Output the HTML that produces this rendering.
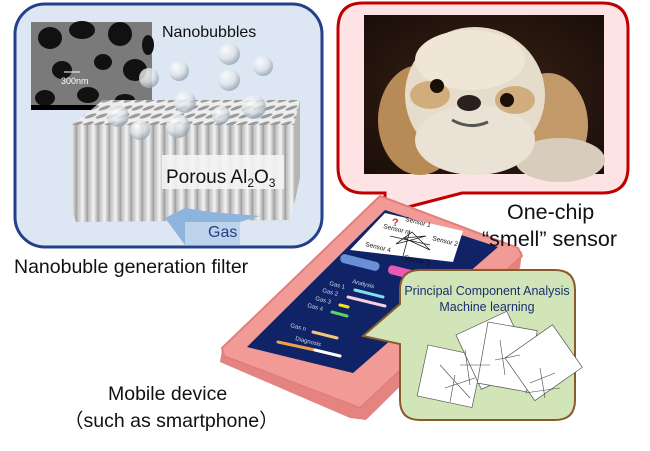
<!DOCTYPE html>
<html><head><meta charset="utf-8"><style>
html,body{margin:0;padding:0;background:#fff;width:650px;height:451px;overflow:hidden}
svg{display:block}
text{font-family:"Liberation Sans",sans-serif}
</style></head><body>
<svg width="650" height="451" viewBox="0 0 650 451" xmlns="http://www.w3.org/2000/svg">
<defs>
<radialGradient id="bub" cx="0.35" cy="0.3" r="0.7">
<stop offset="0" stop-color="#ffffff"/><stop offset="0.6" stop-color="#dde4ea"/><stop offset="1" stop-color="#9aa6b2"/>
</radialGradient>
<linearGradient id="stripe" x1="0" x2="1" y1="0" y2="0">
<stop offset="0" stop-color="#b8b8b8"/><stop offset="0.5" stop-color="#f4f4f4"/><stop offset="1" stop-color="#9a9a9a"/>
</linearGradient>
<pattern id="cols" width="11" height="20" patternUnits="userSpaceOnUse">
<rect width="11" height="20" fill="url(#stripe)"/>
</pattern>
<pattern id="holes" width="11" height="8" patternUnits="userSpaceOnUse" patternTransform="skewX(-60)">
<rect width="11" height="8" fill="#eeeeee"/><ellipse cx="5.5" cy="4" rx="4" ry="2.6" fill="#9b9b9b"/>
</pattern>
<radialGradient id="dogbg" cx="0.5" cy="0.5" r="0.7"><stop offset="0" stop-color="#3a2418"/><stop offset="1" stop-color="#1a0d08"/></radialGradient>
</defs>

<!-- Blue box -->
<rect x="15" y="4" width="307" height="243" rx="30" fill="#dde6f3" stroke="#23408a" stroke-width="3"/>
<!-- SEM -->
<rect x="31" y="22" width="121" height="88" fill="#7a7a7a"/>
<g fill="#111">
<ellipse cx="50" cy="38" rx="12" ry="11"/><ellipse cx="82" cy="30" rx="13" ry="9"/><ellipse cx="120" cy="34" rx="12" ry="12"/>
<ellipse cx="62" cy="70" rx="10" ry="9"/><ellipse cx="103" cy="62" rx="9" ry="8"/><ellipse cx="135" cy="70" rx="12" ry="11"/>
<ellipse cx="45" cy="98" rx="10" ry="8"/><ellipse cx="88" cy="95" rx="11" ry="8"/><ellipse cx="125" cy="100" rx="10" ry="6"/>
<ellipse cx="148" cy="45" rx="6" ry="10"/>
</g>
<rect x="31" y="105" width="121" height="5" fill="#000"/>
<line x1="64" y1="72" x2="80" y2="72" stroke="#fff" stroke-width="1"/>
<text x="61" y="84" font-size="9" fill="#fff">300nm</text>
<text x="162" y="37" font-size="16" fill="#111">Nanobubbles</text>
<!-- block -->
<polygon points="72,125 103,100 300,100 294,125" fill="url(#holes)"/>
<polygon points="72,125 294,125 294,200 290,220 76,222 72,210" fill="url(#cols)"/>
<polygon points="294,125 300,100 300,178 294,205" fill="#b5b5b5"/>
<rect x="162" y="155" width="122" height="34" fill="#f4f4f4" opacity="0.9"/>
<text x="166" y="183" font-size="19" fill="#111">Porous Al<tspan font-size="12" dy="4">2</tspan><tspan dy="-4">O</tspan><tspan font-size="12" dy="4">3</tspan></text>
<!-- gas arrow -->
<polygon points="165,218 185,208 210,212 260,216 240,222 205,222 205,245 185,245" fill="#8db4dc"/>
<polygon points="185,222 240,222 240,245 185,245" fill="#bcd3ea"/>
<text x="208" y="237" font-size="16" fill="#23408a">Gas</text>
<!-- bubbles -->
<g fill="url(#bub)" opacity="0.8">
<circle cx="229" cy="54" r="11"/><circle cx="179" cy="71" r="10"/><circle cx="263" cy="66" r="10"/>
<circle cx="149" cy="78" r="10"/><circle cx="229" cy="80" r="11"/><circle cx="185" cy="102" r="11"/>
<circle cx="254" cy="107" r="12"/><circle cx="118" cy="116" r="11"/><circle cx="140" cy="130" r="10"/>
<circle cx="178" cy="126" r="12"/><circle cx="221" cy="115" r="9"/>
</g>
<text x="14" y="273" font-size="19.5" fill="#111">Nanobuble generation filter</text>

<!-- Red bubble -->
<path d="M363,3 H602 Q628,3 628,29 V167 Q628,193 602,193 H462 L385,213 V193 H364 Q338,193 338,167 V29 Q338,3 363,3 Z" fill="#fde3e3" stroke="#c00000" stroke-width="3"/>
<rect x="364" y="15" width="240" height="159" fill="url(#dogbg)"/>
<g>
<ellipse cx="420" cy="120" rx="42" ry="55" fill="#b88a55"/>
<ellipse cx="548" cy="125" rx="40" ry="52" fill="#c29a6a"/>
<ellipse cx="560" cy="160" rx="45" ry="22" fill="#d8cdbd"/>
<ellipse cx="475" cy="95" rx="70" ry="68" fill="#e6dccb"/>
<ellipse cx="470" cy="60" rx="55" ry="30" fill="#efe6d6"/>
<ellipse cx="475" cy="140" rx="60" ry="35" fill="#e9e2d5"/>
<ellipse cx="430" cy="95" rx="20" ry="14" fill="#c8985c" opacity="0.7"/>
<ellipse cx="515" cy="100" rx="20" ry="14" fill="#c8985c" opacity="0.7"/>
<circle cx="437" cy="86" r="7" fill="#1a0e08"/><circle cx="507" cy="100" r="7" fill="#1a0e08"/>
<ellipse cx="469" cy="103" rx="12" ry="8" fill="#2a2020"/>
<path d="M452,120 Q470,130 488,122" stroke="#555" stroke-width="3" fill="none"/>
</g>

<!-- phone -->
<polygon points="384,198 522,252 520,268 366,420 350,418 220,362 222,350" fill="#e48380"/>
<polygon points="380,196 518,248 522,256 360,408 224,356 222,348" fill="#f29a96" stroke="#e07f7c" stroke-width="2" stroke-linejoin="round"/>
<polygon points="385,210 498,247 353,373 247,347" fill="#0f2366"/>
<polygon points="385,213 463,231 453,262 350,250" fill="#fff"/>
<text x="392" y="226" font-size="11" fill="#e22" font-weight="bold">?</text>
<g font-size="6.5" fill="#111">
<text x="405" y="221" transform="rotate(14 405 221)">Sensor 1</text>
<text x="383" y="228" transform="rotate(14 383 228)">Sensor n</text>
<text x="432" y="240" transform="rotate(14 432 240)">Sensor 2</text>
<text x="365" y="246" transform="rotate(14 365 246)">Sensor 4</text>
<text x="404" y="259" transform="rotate(14 404 259)">Sensor 3</text>
</g>
<path d="M396,244 L412,232 L430,250 L404,238 L426,236 Z M410,230 L402,260 M390,236 L430,245" stroke="#222" stroke-width="0.8" fill="none"/>
<rect x="340" y="258" width="40" height="9" rx="4" fill="#6b8fd6" transform="rotate(14 360 262)"/>
<rect x="388" y="268" width="30" height="9" rx="4" fill="#e85ab6" transform="rotate(14 403 272)"/>
<g font-size="6" fill="#cfd6ea">
<text x="352" y="283" transform="rotate(14 352 283)">Analysis</text>
<text x="329" y="285" transform="rotate(14 329 285)">Gas 1</text>
<text x="322" y="292" transform="rotate(14 322 292)">Gas 2</text>
<text x="315" y="300" transform="rotate(14 315 300)">Gas 3</text>
<text x="307" y="307" transform="rotate(14 307 307)">Gas 4</text>
<text x="290" y="327" transform="rotate(14 290 327)">Gas n</text>
<text x="295" y="340" transform="rotate(14 295 340)">Diagnosis</text>
</g>
<g stroke-width="3" stroke-linecap="round">
<line x1="355" y1="290" x2="383" y2="297" stroke="#7fe0f5"/>
<line x1="348" y1="297" x2="385" y2="306" stroke="#f6d0e2"/>
<line x1="340" y1="305" x2="348" y2="307" stroke="#f3e31c"/>
<line x1="332" y1="312" x2="347" y2="316" stroke="#59d65a"/>
<line x1="313" y1="332" x2="337" y2="338" stroke="#f4c47c"/>
<line x1="278" y1="342" x2="315" y2="350" stroke="#f0a04a"/>
<line x1="315" y1="350" x2="340" y2="356" stroke="#fff"/>
</g>

<text x="507" y="219" font-size="21.5" fill="#111">One-chip</text>
<text x="482" y="246" font-size="21.5" fill="#111">“smell” sensor</text>

<!-- Green bubble -->
<path d="M420,270 H555 Q575,270 575,290 V400 Q575,420 555,420 H420 Q400,420 400,400 V344 L363,336 L400,304 V290 Q400,270 420,270 Z" fill="#d2e5b8" stroke="#8b5a2b" stroke-width="2"/>
<text x="487" y="295" font-size="12.5" fill="#1a2f6e" text-anchor="middle" font-family="Liberation Serif,serif">Principal Component Analysis</text>
<text x="487" y="311" font-size="12.5" fill="#1a2f6e" text-anchor="middle" font-family="Liberation Serif,serif">Machine learning</text>
<g fill="#fff" stroke="#555" stroke-width="0.7">
<rect x="0" y="0" width="56" height="52" transform="translate(428,345) rotate(12)"/>
<rect x="0" y="0" width="56" height="60" transform="translate(456,335) rotate(-25)"/>
<rect x="0" y="0" width="50" height="62" transform="translate(488,322) rotate(10)"/>
<rect x="0" y="0" width="58" height="52" transform="translate(505,358) rotate(-35)"/>
</g>
<g stroke="#444" stroke-width="0.6" fill="none">
<path d="M440,365 L470,398 M455,375 L450,402 M445,388 L475,378 M465,350 L470,385 M460,365 L490,365 M500,340 L505,375 M495,360 L520,355 M530,383 L555,373 M540,368 L545,398 M525,393 L560,388"/>
</g>

<text x="108" y="400" font-size="19.5" fill="#111">Mobile device</text>
<text x="64" y="427" font-size="19.5" fill="#111">（such as smartphone）</text>
</svg>
</body></html>
